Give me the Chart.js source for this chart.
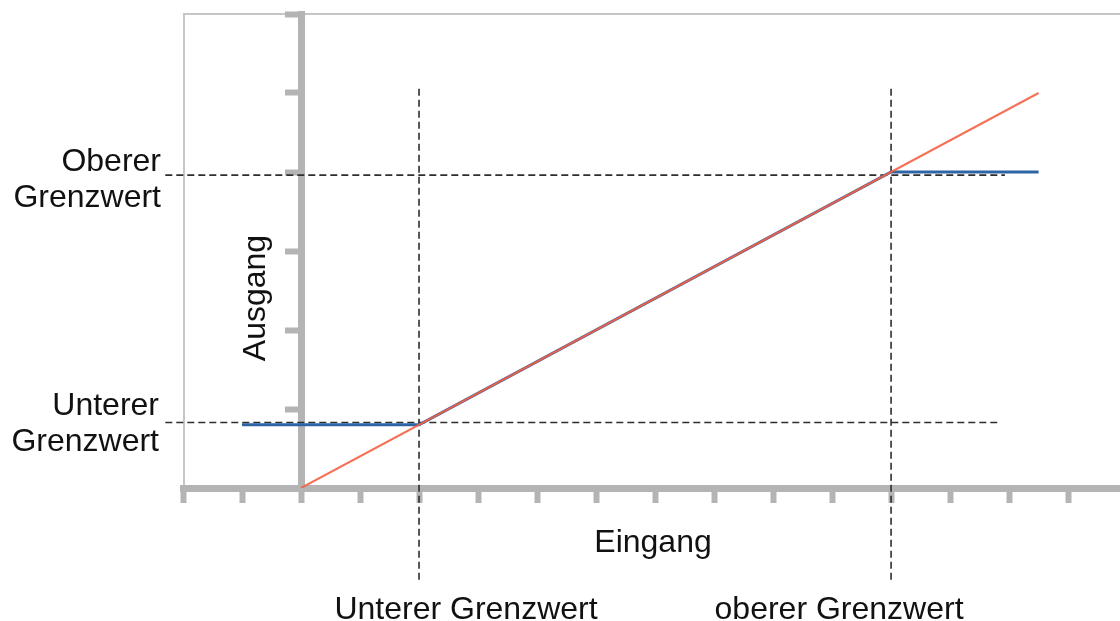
<!DOCTYPE html>
<html>
<head>
<meta charset="utf-8">
<script src="https://cdn.jsdelivr.net/npm/chart.js@4.4.0/dist/chart.umd.min.js"></script>
<style>
  html, body { margin: 0; padding: 0; background: #fff; overflow: hidden; }
  #chart { display: block; }
</style>
</head>
<body>
<canvas id="chart" width="1120" height="621"></canvas>
<script>
// Eingang -> Ausgang, gerade Linie ohne Begrenzung
const lineX = [0, 12.5];
const lineY = [0, 5];

// begrenzte Kennlinie
const clampX = [-1, 2, 10, 12.5];
const clampY = [0.8, 0.8, 4, 4];

// Grenzwerte
const lowerLimitX = 2;
const upperLimitX = 10;
const lowerLimitY = 0.83;
const upperLimitY = 3.96;

// Ausdehnung der Hilfslinien (gestrichelt)
const guideYRange = [-1.16, 5.06];
const guideXEndLower = [-2.3, 11.8];
const guideXEndUpper = [-2.3, 11.93];

const yLabelsLower = ['Unterer', 'Grenzwert'];
const yLabelsUpper = ['Oberer', 'Grenzwert'];
const xLabels = ['Unterer Grenzwert', 'oberer Grenzwert'];
const xTitle = 'Eingang';
const yTitle = 'Ausgang';

const axisGray = '#b4b4b4';
const dashColor = '#2e2e2e';
const font = '32px "Liberation Sans", Arial, sans-serif';

const toPoints = (xs, ys) => xs.map((x, i) => ({ x: x, y: ys[i] }));

const guide = (pts) => ({
    data: pts,
    borderColor: dashColor,
    borderWidth: 1.6,
    borderDash: [7, 4],
    pointRadius: 0,
    clip: false
});

// duenner Rahmen links und oben
const framePlugin = {
    id: 'frame',
    beforeDraw(chart) {
        const ctx = chart.ctx;
        const a = chart.chartArea;
        ctx.save();
        ctx.strokeStyle = '#c6c6c6';
        ctx.lineWidth = 2;
        ctx.beginPath();
        ctx.moveTo(a.left + 1, a.bottom);
        ctx.lineTo(a.left + 1, a.top);
        ctx.lineTo(a.right, a.top);
        ctx.stroke();
        ctx.restore();
    }
};

const textPlugin = {
    id: 'texts',
    afterDraw(chart) {
        const ctx = chart.ctx;
        const xs = chart.scales.x;
        const ys = chart.scales.y;
        ctx.save();
        ctx.fillStyle = '#111';
        ctx.font = font;
        ctx.textBaseline = 'alphabetic';

        ctx.textAlign = 'right';
        const yUp = ys.getPixelForValue(upperLimitY);
        ctx.fillText(yLabelsUpper[0], 161, yUp - 4);
        ctx.fillText(yLabelsUpper[1], 161, yUp + 32);
        const yLo = ys.getPixelForValue(lowerLimitY);
        ctx.fillText(yLabelsLower[0], 159, yLo - 7);
        ctx.fillText(yLabelsLower[1], 159, yLo + 29);

        ctx.textAlign = 'center';
        ctx.fillText(xTitle, 653, 552);
        ctx.fillText(xLabels[0], xs.getPixelForValue(lowerLimitX) + 47, 619);
        ctx.fillText(xLabels[1], xs.getPixelForValue(upperLimitX) - 52, 619);

        ctx.translate(265, 298);
        ctx.rotate(-Math.PI / 2);
        ctx.fillText(yTitle, 0, 0);
        ctx.restore();
    }
};

new Chart(document.getElementById('chart'), {
    type: 'line',
    data: {
        datasets: [
            {
                data: toPoints(lineX, lineY),
                borderColor: 'rgba(245, 96, 66, 0.9)',
                borderWidth: 2,
                pointRadius: 0
            },
            {
                data: toPoints(clampX, clampY),
                borderColor: '#2c64a6',
                borderWidth: 3,
                pointRadius: 0
            },
            guide([{ x: lowerLimitX, y: guideYRange[0] }, { x: lowerLimitX, y: guideYRange[1] }]),
            guide([{ x: upperLimitX, y: guideYRange[0] }, { x: upperLimitX, y: guideYRange[1] }]),
            guide([{ x: guideXEndLower[0], y: lowerLimitY }, { x: guideXEndLower[1], y: lowerLimitY }]),
            guide([{ x: guideXEndUpper[0], y: upperLimitY }, { x: guideXEndUpper[1], y: upperLimitY }])
        ]
    },
    options: {
        responsive: false,
        animation: false,
        layout: { padding: { left: 183, right: 0, top: 14, bottom: 0 } },
        plugins: {
            legend: { display: false },
            tooltip: { enabled: false }
        },
        scales: {
            x: {
                type: 'linear',
                position: 'bottom',
                min: -2,
                max: 13.88,
                ticks: { display: false, stepSize: 1, includeBounds: false },
                grid: {
                    drawOnChartArea: false,
                    tickLength: 15,
                    tickWidth: 6,
                    tickColor: axisGray
                },
                border: { width: 7, color: axisGray },
                afterFit: (scale) => { scale.height = 133; }
            },
            y: {
                type: 'linear',
                position: { x: 0 },
                min: 0,
                max: 6,
                ticks: { display: false, stepSize: 1 },
                grid: {
                    drawOnChartArea: false,
                    tickLength: 13,
                    tickWidth: 6,
                    tickColor: axisGray
                },
                border: { width: 7, color: axisGray }
            }
        }
    },
    plugins: [framePlugin, textPlugin]
});
</script>
</body>
</html>
